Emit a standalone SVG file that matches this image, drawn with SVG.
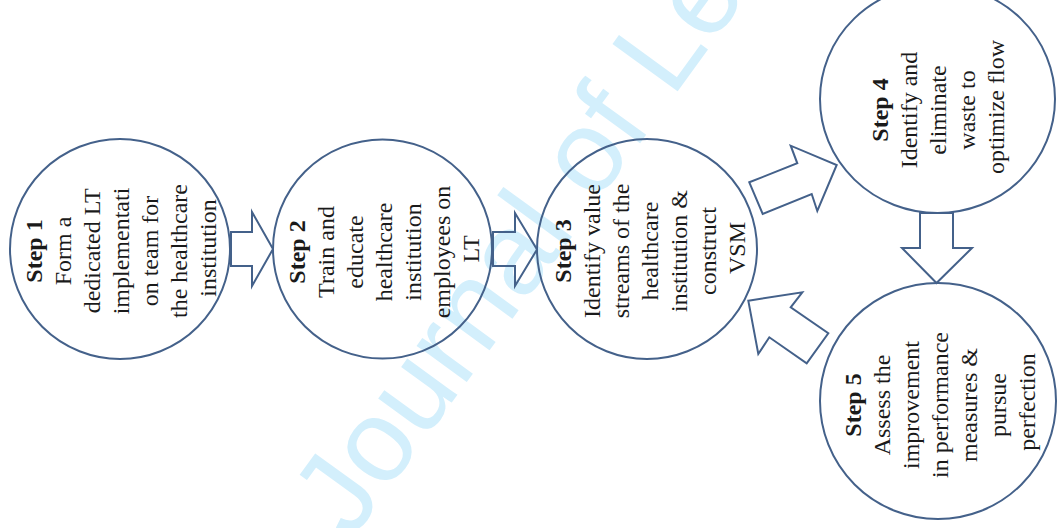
<svg xmlns="http://www.w3.org/2000/svg" width="1057" height="528" viewBox="0 0 1057 528">
<style>
.c{fill:none;stroke:#44618a;stroke-width:2}
.a{fill:none;stroke:#44618a;stroke-width:2;stroke-linejoin:miter}
.t{font-family:"Liberation Serif","Times New Roman",serif;font-size:24px;fill:#1a1a1a;text-anchor:middle}
.b{font-weight:bold}
.w{font-family:"Liberation Sans",Arial,sans-serif;font-size:117px;fill:#d3effc}
</style>
<rect width="1057" height="528" fill="#ffffff"/>
<text class="w" transform="translate(351,541) rotate(-54)">Journal of Le</text>
<g id="step1">
<circle class="c" cx="120" cy="249" r="110"/>
<text class="t" transform="translate(120,248) rotate(-90)">
<tspan class="b" x="0" y="-78">Step 1</tspan>
<tspan x="0" y="-49">Form a</tspan>
<tspan x="0" y="-20">dedicated LT</tspan>
<tspan x="0" y="9">implementati</tspan>
<tspan x="0" y="38">on team for</tspan>
<tspan x="0" y="67">the healthcare</tspan>
<tspan x="0" y="96">institution</tspan>
</text>
</g>
<g id="step2">
<circle class="c" cx="382.5" cy="249" r="109.5"/>
<text class="t" transform="translate(382.5,249) rotate(-90)">
<tspan class="b" x="0" y="-77.5">Step 2</tspan>
<tspan x="0" y="-48.5">Train and</tspan>
<tspan x="0" y="-19.5">educate</tspan>
<tspan x="0" y="9.5">healthcare</tspan>
<tspan x="0" y="38.5">institution</tspan>
<tspan x="0" y="67.5">employees on</tspan>
<tspan x="0" y="96.5">LT</tspan>
</text>
</g>
<g id="step3">
<circle class="c" cx="647" cy="249" r="110"/>
<text class="t" transform="translate(647,248) rotate(-90)">
<tspan class="b" x="0" y="-76">Step 3</tspan>
<tspan x="0" y="-47">Identify value</tspan>
<tspan x="0" y="-18">streams of the</tspan>
<tspan x="0" y="11">healthcare</tspan>
<tspan x="0" y="40">institution &amp;</tspan>
<tspan x="0" y="69">construct</tspan>
<tspan x="0" y="98">VSM</tspan>
</text>
</g>
<g id="step4">
<ellipse class="c" cx="937.5" cy="99" rx="117.5" ry="114"/>
<text class="t" transform="translate(937,107) rotate(-90)">
<tspan class="b" x="0" y="-49">Step 4</tspan>
<tspan x="0" y="-20">Identify and</tspan>
<tspan x="0" y="9">eliminate</tspan>
<tspan x="0" y="38">waste to</tspan>
<tspan x="0" y="67">optimize flow</tspan>
</text>
</g>
<g id="step5">
<circle class="c" cx="938" cy="401" r="118"/>
<text class="t" transform="translate(938,402) rotate(-90)">
<tspan class="b" x="0" y="-77">Step 5</tspan>
<tspan x="0" y="-48">Assess the</tspan>
<tspan x="0" y="-19">improvement</tspan>
<tspan x="0" y="10">in performance</tspan>
<tspan x="0" y="39">measures &amp;</tspan>
<tspan x="0" y="68">pursue</tspan>
<tspan x="0" y="97">perfection</tspan>
</text>
</g>
<g id="connectors">
<polygon class="a" points="231,232 252,232 252,212 273,249 252,286 252,266 231,266"/>
<polygon class="a" points="493,232 515,232 515,213 537,249.5 515,286 515,266 493,266"/>
<polygon class="a" points="749.3,182.3 797.3,163.3 790.7,145.7 836.7,165 817.3,211 811.7,194 762.7,214"/>
<polygon class="a" points="920,213 953,213 953,248 972,248 936.5,283 902,248 920,248"/>
<polygon class="a" points="748.3,300.7 802.3,292.3 790.7,307.3 828.3,333.3 806.7,363.3 769.3,337.3 758.3,354"/>
</g>
</svg>
